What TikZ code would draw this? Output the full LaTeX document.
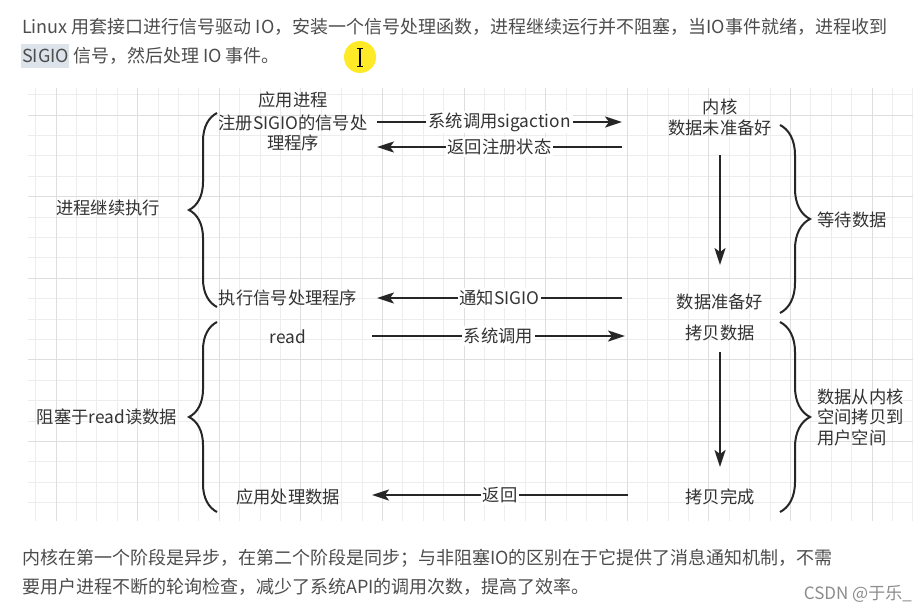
\documentclass[tikz,border=0pt]{standalone}
\usepackage{fontspec}
\setmainfont{Noto Sans CJK SC}
\usetikzlibrary{arrows.meta,decorations.pathreplacing}

\definecolor{txt}{HTML}{4D4D4D}
\definecolor{ink}{HTML}{333333}
\definecolor{gridminor}{HTML}{EDEDED}
\definecolor{gridmajor}{HTML}{DEDEDE}
\definecolor{selbg}{HTML}{DCE3EB}

\begin{document}
\begin{tikzpicture}[x=1pt, y=-1pt,
	para/.style={anchor=west, inner sep=0pt, text=txt, font=\fontsize{18}{20}\selectfont},
	lbl/.style={text=ink, font=\fontsize{17.3}{20.5}\selectfont, inner sep=1pt, align=center},
	edgelbl/.style={lbl, fill=white, inner sep=2pt},
	arr/.style={line width=2.2pt, draw=black!85, -{Stealth[length=17pt,width=11pt,inset=4pt]}},
	curly/.style={line width=2pt, draw=black!85, decorate, decoration={brace, amplitude=#1}},
	]
	
	\useasboundingbox (0,0) rectangle (924,613);
	\fill [white] (0,0) rectangle (924,613);
	
	% text above the diagram
	\node [para] (p1) at (22,27) {Linux 用套接口进行信号驱动 IO，安装一个信号处理函数，进程继续运行并不阻塞，当IO事件就绪，进程收到};
	\fill [selbg] (21,44) rectangle (69,68);
	\node [para] (p2) at (22,56) {SIGIO 信号，然后处理 IO 事件。};
	\fill [yellow!90!orange, opacity=0.85] (360,57) circle (16);
	\draw [line width=1.2pt] (360,48) -- (360,66);
	\draw [line width=1pt]   (357,48) -- (363,48)  (357,66) -- (363,66);
	
	% grid
	\foreach \i in {0,...,43}
		\draw [gridminor, line width=1pt] ({35.6+20.4*\i},88) -- ++(0,433);
	\foreach \j in {0,...,20}
		\draw [gridminor, line width=1pt] (28,{94.6+20.4*\j}) -- ++(885,0);
	\foreach \i in {0,...,10}
		\draw [gridmajor, line width=1pt] ({56+81.6*\i},88) -- ++(0,433);
	\foreach \j in {0,...,4}
		\draw [gridmajor, line width=1pt] (28,{115+81.6*\j}) -- ++(885,0);
	
	% application side
	\node [lbl] (app)   at (293,100) {应用进程};
	\node [lbl] (reg)   at (293,133) {注册SIGIO的信号处\\理程序};
	\node [lbl] (exec)  at (288,298) {执行信号处理程序};
	\node [lbl] (cont)  at (108,208) {进程继续执行};
	\node [lbl] (rd)    at (288,337) {read};
	\node [lbl] (use)   at (288,497) {应用处理数据};
	\node [lbl] (block) at (107,417) {阻塞于read读数据};
	
	% kernel side
	\node [lbl] (kern)     at (720,107) {内核};
	\node [lbl] (notready) at (720,128) {数据未准备好};
	\node [lbl] (ready)    at (720,302) {数据准备好};
	\node [lbl] (copy)     at (720,333) {拷贝数据};
	\node [lbl] (done)     at (720,497) {拷贝完成};
	\node [lbl] (wait)     at (852,220) {等待数据};
	\node [lbl, align=left, anchor=west] (move) at (816,417) {数据从内核\\空间拷贝到\\用户空间};
	
	% braces
	\draw [curly=28pt] (217,307) -- (217,113);
	\draw [curly=28pt] (217,512) -- (217,322);
	\draw [curly=30pt] (780,125) -- (780,313);
	\draw [curly=30pt] (780,322) -- (780,512);
	
	% calls and returns
	\coordinate (sa1) at (377,122);  \coordinate (sa2) at (622,122);
	\coordinate (rt1) at (622,147);  \coordinate (rt2) at (377,147);
	\coordinate (nt1) at (622,298);  \coordinate (nt2) at (377,298);
	\coordinate (sc1) at (372,336);  \coordinate (sc2) at (625,336);
	\coordinate (bk1) at (628,495);  \coordinate (bk2) at (372,495);
	\coordinate (dn1) at (720,155);  \coordinate (dn2) at (720,265);
	\coordinate (cp1) at (720,352);  \coordinate (cp2) at (720,467);
	
	\draw [arr] (sa1) -- node [edgelbl] {系统调用sigaction} (sa2);
	\draw [arr] (rt1) -- node [edgelbl] {返回注册状态} (rt2);
	\draw [arr] (nt1) -- node [edgelbl] {通知SIGIO} (nt2);
	\draw [arr] (sc1) -- node [edgelbl] {系统调用} (sc2);
	\draw [arr] (bk1) -- node [edgelbl] {返回} (bk2);
	\draw [arr] (dn1) -- (dn2);
	\draw [arr] (cp1) -- (cp2);
	
	% text below the diagram
	\node [para] (q1) at (22,558) {内核在第一个阶段是异步，在第二个阶段是同步；与非阻塞IO的区别在于它提供了消息通知机制，不需};
	\node [para] (q2) at (22,587) {要用户进程不断的轮询检查，减少了系统API的调用次数，提高了效率。};
	\node [anchor=east, inner sep=0pt, text=black!45, font=\fontsize{17}{20}\selectfont] (mark) at (912,594) {CSDN @于乐\_};
	
\end{tikzpicture}
\end{document}
